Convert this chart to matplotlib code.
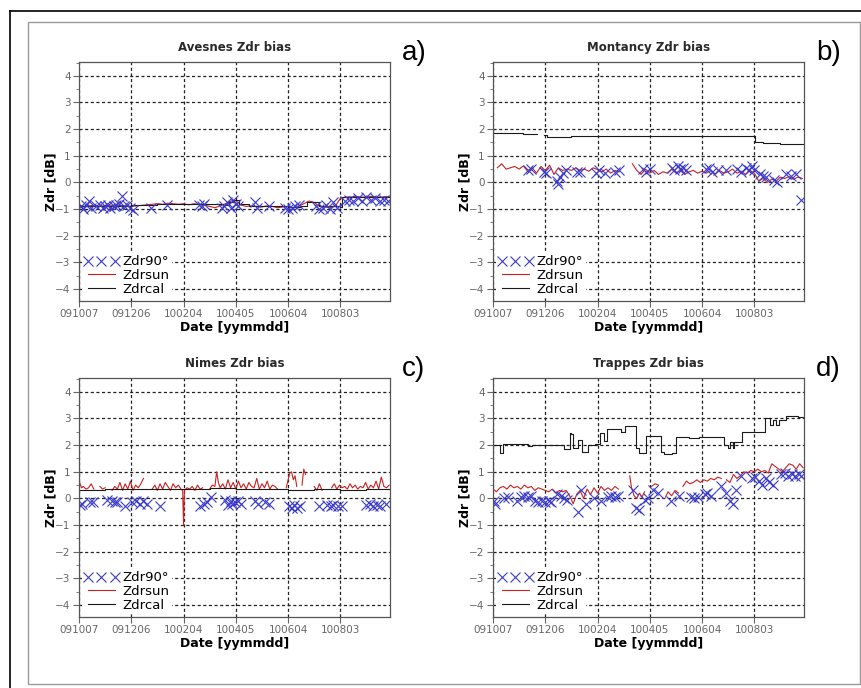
import numpy as np
import pandas as pd
import matplotlib
matplotlib.use("Agg")
import matplotlib.pyplot as plt
from matplotlib.lines import Line2D
from matplotlib.patches import Rectangle
from matplotlib.ticker import MultipleLocator

# x values are days after 2009-10-07
START = pd.Timestamp("2009-10-07")
LAST_DAY = 357
tick_labels = ["091007", "091206", "100204", "100405", "100604", "100803"]
y_ticks = [-4, -3, -2, -1, 0, 1, 2, 3, 4]
n = np.nan

# --- a) Avesnes
a_cal_days = [0, 30, 60, 90, 120, 150, 165, 172, 178, 184, 195, 220, 240, 255, 262, 268, 275, 300, 302, 357]
a_cal_vals = [-0.88, -0.88, -0.86, -0.82, -0.8, -0.82, -0.85, -0.72, -0.65, -0.82,
              -0.88, -0.9, -0.92, -0.9, -0.72, -0.72, -0.9, -0.92, -0.55, -0.55]
a_sun_days = [0, 6, 12, 18, 24, 30, 36, 42, 48, 54,
              60, 66, 72, 78, 84, 90, 96, 102, 108, 114,
              120, 126, 132, 138, 144, 150, 156, 162, 168, 174,
              180, 186, 192, 198, 204, 210, 216, 222, 228, 234,
              240, 246, 252, 258, 264, 270, 276, 282, 288, 294,
              300, 306, 312, 318, 324, 330, 336, 342, 348, 354, 357]
a_sun_vals = [-0.85, -0.9, -0.88, -0.85, -0.9, -0.87, -0.85, -0.9, -0.86, -0.88,
              -0.9, -0.88, -0.86, -0.84, -0.82, -0.8, -0.82, -0.78, -0.8, -0.82,
              -0.8, -0.84, -0.8, -0.82, -0.85, -0.9, -0.95, -0.88, -0.8, -0.7,
              -0.68, -0.85, -0.9, -0.88, -0.9, -0.92, -0.88, -0.9, -0.95, -0.92,
              -0.9, -0.95, -0.9, -0.8, -0.7, -0.75, -0.9, -0.92, -0.95, -0.9,
              -0.6, -0.55, -0.55, -0.52, -0.55, -0.55, -0.52, -0.55, -0.55, -0.53, -0.55]
a_x90_days = [2, 5, 8, 12, 14, 20, 24, 27, 30, 33,
              36, 40, 43, 46, 49, 52, 55, 58, 62, 83,
              101, 138, 141, 144, 164, 167, 170, 174, 177, 180,
              182, 202, 204, 218, 236, 240, 244, 248, 252, 272,
              276, 280, 284, 288, 292, 296, 305, 310, 315, 320,
              325, 330, 335, 340, 345, 350, 355]
a_x90_vals = [-0.9, -1.0, -0.85, -0.7, -0.95, -0.9, -0.85, -0.95, -0.9, -0.85,
              -0.95, -0.9, -0.85, -0.8, -0.5, -0.9, -0.85, -0.95, -1.05, -0.95,
              -0.85, -0.85, -0.9, -0.8, -0.95, -0.9, -0.75, -0.95, -0.65, -0.8,
              -0.9, -0.75, -0.95, -0.9, -0.95, -1.0, -0.95, -0.9, -0.85, -0.9,
              -1.0, -0.95, -0.85, -1.0, -0.75, -0.95, -0.7, -0.65, -0.7, -0.6,
              -0.7, -0.55, -0.65, -0.6, -0.7, -0.65, -0.7]

# --- b) Montancy
b_cal_days = [0, 20, 35, 46, 50, 58, 62, 90, 150, 200, 240, 260, 299, 301, 310, 330, 357]
b_cal_vals = [1.85, 1.84, 1.82, 1.8, n, 1.78, 1.72, 1.74, 1.75, 1.74, 1.76, 1.73, 1.75, 1.5, 1.48, 1.45, 1.45]
b_sun_days = [5, 10, 15, 20, 25, 30, 35, 40, 45, 50,
              55, 60, 65, 70, 75, 80, 85, 90, 95, 100,
              105, 110, 115, 120, 125, 130, 135, 140, 145, 150,
              160, 165, 170, 175, 180, 185, 190, 195, 200, 205,
              210, 215, 220, 225, 230, 235, 240, 245, 250, 255,
              260, 265, 270, 275, 280, 285, 290, 295, 300, 305,
              310, 315, 320, 325, 330, 335, 340, 345, 350, 355]
b_sun_vals = [0.55, 0.7, 0.5, 0.55, 0.6, 0.5, 0.62, 0.4, 0.55, 0.35,
              0.6, 0.45, 0.65, 0.3, 0.55, 0.45, 0.5, 0.45, 0.55, 0.45,
              0.5, 0.42, 0.55, 0.48, 0.4, 0.5, 0.35, 0.45, 0.4, n,
              0.7, 0.45, 0.3, 0.5, 0.35, 0.45, 0.3, 0.4, 0.35, 0.5,
              0.35, 0.45, 0.3, 0.4, 0.45, 0.35, 0.42, 0.35, 0.45, 0.3,
              0.45, 0.35, 0.4, 0.5, 0.35, 0.42, 0.3, 0.45, 0.35, 0.05,
              0.15, 0.0, 0.12, 0.05, 0.2, 0.15, 0.22, 0.12, 0.2, 0.15]
b_x90_days = [40, 44, 58, 61, 73, 75, 77, 80, 84, 96,
              100, 118, 122, 128, 140, 145, 172, 176, 180, 205,
              208, 212, 215, 218, 222, 244, 248, 251, 258, 267,
              280, 285, 290, 294, 297, 300, 307, 310, 313, 322,
              326, 336, 342, 348, 354]
b_x90_vals = [0.45, 0.5, 0.4, 0.35, 0.05, -0.05, 0.2, 0.35, 0.45, 0.4,
              0.4, 0.35, 0.45, 0.35, 0.4, 0.45, 0.5, 0.4, 0.5, 0.55,
              0.45, 0.6, 0.5, 0.55, 0.45, 0.5, 0.55, 0.4, 0.45, 0.45,
              0.5, 0.4, 0.55, 0.45, 0.6, 0.45, 0.3, 0.25, 0.2, 0.1,
              0.0, 0.3, 0.25, 0.3, -0.65]

# --- c) Nimes
c_cal_days = [0, 10, 30, 60, 90, 120, 150, 180, 210, 240, 270, 300, 330, 357]
c_cal_vals = [0.3, 0.32, 0.35, 0.35, 0.36, 0.37, 0.38, 0.35, 0.34, 0.33, 0.34, 0.33, 0.34, 0.33]
c_sun_days = [0, 3, 5, 8, 11, 14, 17, 20, 24, 27,
              30, 33, 38, 41, 44, 47, 50, 53, 56, 59,
              62, 65, 68, 71, 74, 77, 84, 87, 90, 93,
              96, 99, 102, 105, 108, 111, 114, 117, 119, 120,
              121, 124, 127, 130, 133, 136, 139, 142, 145, 150,
              153, 156, 158, 160, 162, 165, 168, 171, 174, 177,
              180, 183, 186, 189, 192, 195, 198, 201, 204, 207,
              210, 213, 216, 219, 222, 225, 228, 232, 238, 240,
              242, 244, 246, 248, 250, 253, 256, 258, 260, 263,
              270, 273, 276, 279, 283, 290, 293, 296, 299, 302,
              305, 308, 311, 314, 317, 320, 323, 326, 329, 332,
              335, 338, 341, 344, 347, 350, 353, 356]
c_sun_vals = [0.65, 0.4, 0.45, 0.35, 0.4, 0.55, 0.35, n, 0.45, 0.35,
              0.4, n, 0.3, 0.45, 0.35, 0.6, 0.3, 0.55, 0.35, 0.65,
              0.3, 0.5, 0.4, 0.55, 0.75, n, 0.35, 0.5, 0.3, 0.55,
              0.35, 0.6, 0.45, 0.3, 0.55, 0.4, 0.5, 0.35, 0.3, -1.0,
              0.3, 0.4, 0.35, 0.45, 0.3, 0.5, 0.35, 0.4, n, 0.35,
              0.5, 0.45, 1.0, 0.6, 0.4, 0.55, 0.35, 0.7, 0.4, 0.6,
              0.35, 0.65, 0.4, 0.55, 0.35, 0.6, 0.45, 0.4, 0.75, 0.35,
              0.55, 0.4, 0.65, 0.35, 0.5, 0.45, 0.35, n, 0.4, 0.7,
              0.95, 1.0, 0.7, 0.85, 0.45, n, 0.5, 1.1, 0.9, n,
              0.45, 0.3, 0.55, 0.3, n, 0.4, 0.55, 0.35, 0.5, 0.4,
              0.45, 0.35, 0.55, 0.4, 0.5, 0.35, 0.45, 0.4, 0.6, 0.35,
              0.5, 0.4, 0.65, 0.35, 0.8, 0.45, 0.4, 0.5]
c_x90_days = [1, 4, 13, 16, 32, 38, 41, 44, 53, 61,
              65, 70, 74, 78, 93, 139, 143, 147, 151, 168,
              171, 174, 176, 179, 182, 186, 202, 206, 214, 218,
              241, 244, 247, 250, 254, 275, 285, 289, 292, 297,
              302, 330, 334, 338, 342, 346, 352]
c_x90_vals = [-0.25, -0.2, -0.15, -0.15, -0.05, -0.1, -0.15, -0.15, -0.3, -0.15,
              -0.1, -0.2, -0.1, -0.2, -0.3, -0.3, -0.2, -0.15, 0.05, -0.05,
              -0.25, -0.1, -0.2, -0.15, -0.1, -0.2, -0.1, -0.2, -0.15, -0.2,
              -0.3, -0.35, -0.25, -0.35, -0.3, -0.3, -0.25, -0.3, -0.25, -0.3,
              -0.3, -0.25, -0.2, -0.3, -0.25, -0.3, -0.2]

# --- d) Trappes
d_cal_days = [0, 8, 12, 40, 45, 82, 88, 89, 92, 98,
              102, 109, 117, 123, 127, 131, 147, 151, 164, 168,
              172, 176, 193, 196, 205, 210, 225, 236, 265, 270,
              272, 275, 277, 286, 298, 312, 318, 321, 325, 328,
              333, 336, 350, 357]
d_cal_vals = [2.0, 1.7, 2.05, 1.95, 2.0, 1.85, 2.45, 2.4, 1.9, 2.2,
              1.75, 2.0, 2.05, 2.45, 2.15, 2.6, 2.5, 2.7, 1.9, 1.7,
              1.7, 2.35, 1.75, 1.65, 1.7, 2.3, 2.25, 2.3, 2.0, 1.9,
              2.1, 1.9, 2.1, 2.5, 2.5, 3.0, 2.75, 2.95, 2.75, 2.95,
              2.95, 3.1, 3.05, 3.05]
d_sun_days = [0, 4, 8, 12, 16, 20, 24, 28, 32, 36,
              40, 44, 48, 52, 56, 60, 64, 68, 72, 76,
              80, 84, 88, 92, 96, 100, 104, 108, 112, 116,
              120, 124, 128, 132, 136, 140, 144, 150, 157, 159,
              162, 165, 168, 171, 174, 178, 182, 186, 190, 194,
              198, 201, 205, 209, 213, 216, 218, 222, 226, 230,
              234, 238, 242, 246, 250, 254, 258, 262, 264, 268,
              272, 276, 280, 284, 288, 292, 296, 300, 304, 308,
              312, 316, 320, 324, 328, 332, 336, 340, 344, 348,
              352, 356]
d_sun_vals = [0.35, 0.25, 0.4, 0.45, 0.35, 0.5, 0.4, 0.45, 0.35, 0.5,
              0.4, 0.45, 0.3, 0.4, 0.35, 0.3, 0.25, 0.35, 0.2, 0.3,
              0.25, 0.3, 0.1, -0.2, 0.15, 0.3, 0.0, 0.35, 0.15, 0.4,
              0.2, 0.45, 0.3, 0.4, 0.3, 0.45, 0.35, n, 0.85, 0.4,
              0.1, 0.0, 0.2, 0.05, 0.25, n, 0.45, 0.55, 0.5, n,
              0.05, 0.25, 0.1, 0.3, 0.2, n, 0.45, 0.65, 0.55, 0.6,
              0.7, 0.6, 0.7, 0.65, 0.75, 0.7, 0.8, 0.75, n, 0.7,
              0.6, 0.9, 0.75, 0.85, 1.0, 0.95, 1.05, 1.0, 1.1, 1.0,
              1.05, 0.95, 1.3, 1.2, 1.1, 1.0, 1.15, 1.3, 1.25, 1.1,
              1.3, 1.15]
d_x90_days = [1, 2, 13, 17, 27, 32, 36, 40, 44, 48,
              52, 56, 60, 64, 67, 74, 78, 82, 85, 97,
              101, 107, 116, 124, 132, 136, 140, 143, 161, 164,
              168, 174, 178, 184, 189, 204, 214, 227, 231, 235,
              243, 246, 250, 262, 268, 272, 275, 279, 285, 297,
              301, 305, 309, 313, 317, 321, 331, 335, 339, 343,
              347, 351, 354]
d_x90_vals = [-0.1, -0.2, 0.0, 0.05, -0.1, 0.05, 0.1, 0.05, 0.1, -0.1,
              -0.15, -0.1, -0.15, -0.1, -0.15, 0.15, 0.1, 0.0, -0.05, -0.5,
              0.3, -0.2, 0.0, -0.1, 0.05, 0.1, 0.05, 0.1, 0.3, -0.35,
              -0.45, -0.05, 0.0, 0.3, 0.2, -0.1, 0.1, 0.05, 0.0, 0.05,
              0.15, 0.2, 0.1, 0.45, 0.2, -0.1, -0.2, 0.3, 0.85, 0.75,
              0.8, 0.65, 0.5, 0.75, 0.6, 0.5, 0.9, 0.95, 0.85, 0.9,
              0.85, 0.9, 0.85]

titles = ["Avesnes Zdr bias", "Montancy Zdr bias", "Nimes Zdr bias", "Trappes Zdr bias"]
letters = ["a)", "b)", "c)", "d)"]
panels = [
    (a_cal_days, a_cal_vals, a_sun_days, a_sun_vals, a_x90_days, a_x90_vals),
    (b_cal_days, b_cal_vals, b_sun_days, b_sun_vals, b_x90_days, b_x90_vals),
    (c_cal_days, c_cal_vals, c_sun_days, c_sun_vals, c_x90_days, c_x90_vals),
    (d_cal_days, d_cal_vals, d_sun_days, d_sun_vals, d_x90_days, d_x90_vals),
]


def to_dates(days):
    return START + pd.to_timedelta(days, unit="D")


BLUE = "#3b3bc8"
RED = "#cc2020"
BLACK = "#1a1a1a"
W, H = 862, 688

fig = plt.figure(figsize=(W / 100, H / 100), dpi=100)

# outer frame: black top/left rules and thin gray box
fig.add_artist(Line2D([10 / W, 1], [1 - 11 / H, 1 - 11 / H], color="black", lw=1.2))
fig.add_artist(Line2D([10 / W, 10 / W], [0, 1 - 11 / H], color="black", lw=1.2))
fig.add_artist(Rectangle((28 / W, 4 / H), 832 / W, 662 / H, fill=False,
                         edgecolor="#9a9a9a", lw=1.0))

# axes boxes in pixels: left, top
boxes = [(79, 62), (493, 62), (79, 378), (493, 378)]
ax_w, ax_h = 311, 239
tick_dates = pd.to_datetime(tick_labels, format="%y%m%d")

for i, (cal_d, cal_v, sun_d, sun_v, x90_d, x90_v) in enumerate(panels):
    left, top = boxes[i]
    ax = fig.add_axes([left / W, 1 - (top + ax_h) / H, ax_w / W, ax_h / H])

    ax.plot(to_dates(sun_d), sun_v, color=RED, lw=0.8, label="Zdrsun")
    ax.plot(to_dates(cal_d), cal_v, color=BLACK, lw=0.8, drawstyle="steps-post",
            label="Zdrcal")
    ax.plot(to_dates(x90_d), x90_v, ls="none", marker="x", ms=6.5, mew=0.8,
            color=BLUE, label="Zdr90°")

    ax.set_xlim(START, START + pd.Timedelta(days=LAST_DAY))
    ax.set_ylim(-4.45, 4.52)
    ax.set_xticks(tick_dates)
    ax.set_xticklabels(tick_labels)
    ax.set_yticks(y_ticks)
    ax.yaxis.set_minor_locator(MultipleLocator(0.5))
    ax.tick_params(labelsize=7.5, labelcolor="#666666", color="#666666",
                   length=4, width=0.8, pad=2)
    ax.tick_params(which="minor", length=2, color="#666666")
    ax.grid(True, color="#222222", ls=(0, (2.5, 2)), lw=0.9)
    for sp in ax.spines.values():
        sp.set_color("#555555")
        sp.set_linewidth(0.9)

    ax.set_title(titles[i], fontsize=8.5, fontweight="bold", color="#2a2a2a", pad=8)
    ax.set_xlabel("Date [yymmdd]", fontsize=9, fontweight="bold")
    ax.set_ylabel("Zdr [dB]", fontsize=9, fontweight="bold")
    ax.xaxis.set_label_coords(0.5, -0.085)
    ax.yaxis.set_label_coords(-0.07, 0.5)

    h, l = ax.get_legend_handles_labels()
    order = [2, 0, 1]
    leg = ax.legend([h[k] for k in order], [l[k] for k in order], loc="lower left",
                    bbox_to_anchor=(0.0, 0.0), numpoints=3, fontsize=9.5,
                    frameon=True, fancybox=False, framealpha=1, edgecolor="none",
                    facecolor="white", borderaxespad=0.25, borderpad=0.15,
                    labelspacing=0.05, handlelength=2.6, handletextpad=0.3)

    fig.text((left + 323) / W, 1 - (top - 9) / H, letters[i], fontsize=20,
             family="Liberation Sans", va="center", ha="left")

fig.savefig("out.png", dpi=100)
